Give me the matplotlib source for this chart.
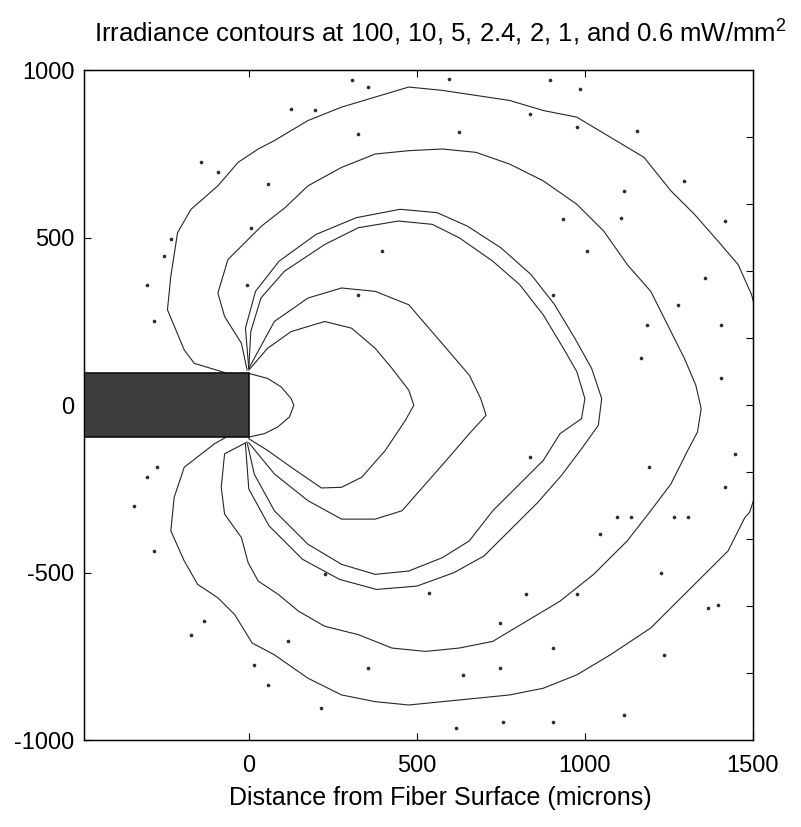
import matplotlib
matplotlib.use("Agg")
import matplotlib.pyplot as plt
import numpy as np
from matplotlib.patches import Rectangle

plt.rcParams['font.family'] = ['Liberation Sans', 'DejaVu Sans']
plt.rcParams['mathtext.fontset'] = 'custom'
plt.rcParams['mathtext.rm'] = 'Liberation Sans'
plt.rcParams['axes.unicode_minus'] = False

# Contour traces (microns), fiber tip at (0, 0)
c100_x = [0, 56, 96, 126, 134, 121, 86, 46, 0]
c100_y = [95, 80, 55, 20, 0, -35, -65, -85, -95]

c10_x = [0, 56, 126, 226, 306, 376, 426, 476, 491, 466, 406, 336, 276, 216, 126, 56, 0]
c10_y = [105, 170, 220, 250, 230, 170, 110, 45, 0, -45, -135, -215, -245, -247, -185, -135, -100]

c5_x = [0, 76, 176, 276, 376, 476, 536, 596, 656, 690, 706, 656, 596, 526, 456, 376, 276, 176, 76, 0]
c5_y = [110, 250, 320, 350, 340, 300, 230, 160, 90, 20, -30, -85, -155, -235, -315, -340, -340, -285, -205, -112]

c24_x = [0, 6, 36, 106, 226, 326, 446, 546, 626, 726, 806, 876, 936, 976, 1000, 990, 926, 876,
         796, 726, 656, 576, 476, 376, 276, 176, 76, 16, -4]
c24_y = [110, 220, 320, 400, 480, 530, 550, 540, 500, 430, 360, 270, 170, 100, 20, -40, -85, -165,
         -245, -315, -405, -455, -495, -505, -475, -415, -315, -205, -115]

c2_x = [0, -10, 20, 90, 200, 320, 450, 560, 650, 750, 840, 910, 970, 1020, 1050, 1040, 990, 930,
        860, 780, 700, 610, 500, 380, 270, 160, 60, 0, -10]
c2_y = [110, 230, 340, 430, 510, 560, 585, 575, 535, 470, 390, 300, 200, 110, 20, -60, -130, -210,
        -290, -370, -450, -500, -540, -550, -520, -460, -360, -250, -115]

c1_x = [-5, -22, -72, -92, -62, -12, 38, 108, 176, 276, 376, 476, 576, 676, 776, 876, 976, 1056,
        1126, 1196, 1246, 1296, 1330, 1346, 1335, 1306, 1256, 1196, 1126, 1026, 926, 826, 726, 626,
        526, 426, 326, 226, 148, 88, 28, -2, -22, -72, -82, -72, -5]
c1_y = [105, 185, 265, 335, 435, 485, 535, 590, 655, 710, 750, 760, 765, 755, 720, 670, 600, 520,
        420, 340, 240, 140, 60, -10, -80, -135, -235, -315, -405, -505, -585, -645, -705, -725,
        -735, -725, -685, -660, -615, -565, -525, -470, -395, -325, -245, -145, -110]

c06_x = [-70, -162, -192, -242, -232, -212, -172, -92, -32, 28, 76, 176, 276, 376, 476, 576, 676,
         776, 876, 976, 1076, 1176, 1256, 1326, 1396, 1456, 1496, 1530, 1540, 1530, 1490, 1476,
         1426, 1356, 1276, 1196, 1076, 976, 876, 776, 676, 576, 476, 376, 276, 176, 76, 10, -42,
         -92, -152, -192, -232, -222, -192, -102, -70]
c06_y = [97, 125, 165, 285, 385, 515, 585, 655, 725, 765, 790, 850, 890, 920, 950, 940, 925, 910,
         880, 860, 800, 740, 640, 570, 490, 420, 330, 200, 0, -200, -320, -335, -435, -505, -585,
         -665, -745, -805, -845, -865, -875, -885, -895, -885, -865, -815, -745, -710, -625, -575,
         -535, -465, -375, -275, -185, -115, -97]

# Small noise islands scattered around the outer bands
speck_x = [306, 356, 596, 896, 986, 126, 196, 326, 626, 1156, 1296, 1116, 936, 1106, 906, 1166,
           1276, 1416, 1356, 1406, 976, 836, 56, 6, -4, 326, 396, 1006, 1186, 1406,
           836, 1191, 1096, 1136, 1046, 1446, 1416, 1226, 976, 826, 746, 906, 636, 746, 1116,
           906, 756, 616, 216, 56, 16, 116, 226, 356, 536, 1236, 1366, 1396, 1306, 1266,
           -302, -282, -252, -232, -142, -92, -342, -282, -302, -272, -132, -172]
speck_y = [970, 950, 975, 970, 945, 885, 880, 810, 815, 820, 670, 640, 555, 560, 330, 140,
           300, 550, 380, 80, 830, 870, 660, 530, 360, 330, 460, 460, 240, 240,
           -155, -185, -335, -335, -385, -145, -245, -500, -565, -565, -650, -725, -805, -785, -925,
           -945, -945, -965, -905, -835, -775, -705, -505, -785, -560, -745, -605, -595, -335, -335,
           360, 250, 445, 495, 725, 695, -300, -435, -215, -185, -645, -685]

levels = [(c100_x, c100_y), (c10_x, c10_y), (c5_x, c5_y), (c24_x, c24_y),
          (c2_x, c2_y), (c1_x, c1_y), (c06_x, c06_y)]

fig = plt.figure(figsize=(8.01, 8.27), dpi=100)
ax = fig.add_axes([0.105, 0.105, 0.835, 0.81])

for xs, ys in levels:
    ax.plot(xs, ys, color='#262626', lw=0.8)
ax.plot(speck_x, speck_y, 'o', ms=2.0, mfc='#262626', mec='#262626', mew=0.6)

# fiber
ax.add_patch(Rectangle((-600, -95), 600, 190, facecolor='#3d3d3d', edgecolor='#111111', lw=1.2, zorder=3))

ax.set_xlim(-490, 1500)
ax.set_ylim(-1000, 1000)
ax.set_xticks([0, 500, 1000, 1500])
ax.set_yticks([1000, 500, 0, -500, -1000])
ax.tick_params(direction='in', length=5, labelsize=17, top=True, right=False, pad=7)
ax.tick_params(axis='x', pad=11)
for s in ax.spines.values():
    s.set_linewidth(1.0)

# right-hand ticks every 200 with no labels
ax2 = ax.twinx()
ax2.set_ylim(-1000, 1000)
ax2.set_yticks(np.arange(-800, 801, 200))
ax2.tick_params(direction='in', length=5, labelright=False)

fig.text(0.55, 0.950, r'Irradiance contours at 100, 10, 5, 2.4, 2, 1, and 0.6 mW/mm$^2$',
         fontsize=18.5, ha='center', va='baseline')
fig.text(0.55, 0.026, 'Distance from Fiber Surface (microns)', fontsize=18, ha='center', va='baseline')

fig.savefig('out.png', dpi=100)
